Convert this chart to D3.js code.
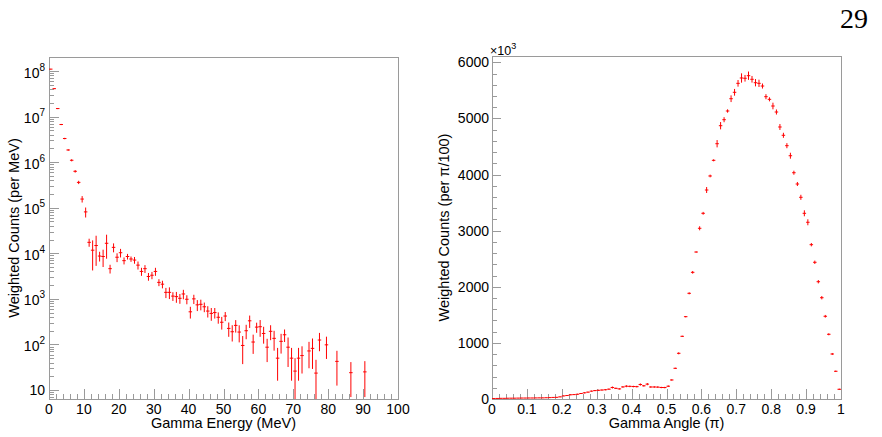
<!DOCTYPE html>
<html>
<head>
<meta charset="utf-8">
<script src="https://cdn.jsdelivr.net/npm/d3@7"></script>
<style>
  body { margin: 0; background: #fff; }
  svg { display: block; }
  text { font-family: "Liberation Sans", Arial, Helvetica, sans-serif; fill: #000; }
</style>
</head>
<body>
<svg id="chart" width="882" height="437"></svg>
<script>
// ---- left panel: gamma energy spectrum (1 MeV bins, empty bins left out)
const energyBins = [0.5, 1.5, 2.5, 3.5, 4.5, 5.5, 6.5, 7.5, 8.5, 9.5,
  10.5, 11.5, 12.5, 13.5, 14.5, 15.5, 16.5, 17.5, 18.5, 19.5,
  20.5, 21.5, 22.5, 23.5, 24.5, 25.5, 26.5, 27.5, 28.5, 29.5,
  30.5, 31.5, 32.5, 33.5, 34.5, 35.5, 36.5, 37.5, 38.5, 39.5,
  40.5, 41.5, 42.5, 43.5, 44.5, 45.5, 46.5, 47.5, 48.5, 49.5,
  50.5, 51.5, 52.5, 53.5, 54.5, 55.5, 56.5, 57.5, 58.5, 59.5,
  60.5, 61.5, 62.5, 63.5, 64.5, 65.5, 66.5, 67.5, 68.5, 69.5,
  70.5, 71.5, 72.5, 74.5, 75.5, 76.5, 77.5, 79.5, 82.5, 86.5, 90.5];
const energyCounts = [1.1e8, 4.1e7, 1.5e7, 6.7e6, 3.3e6, 1.85e6, 1.1e6, 6.3e5, 3.6e5, 1.55e5,
  8.1e4, 1.74e4, 1.17e4, 1.48e4, 8.7e3, 8.5e3, 1.66e4, 4.6e3, 1.35e4, 8.2e3,
  1.03e4, 6.9e3, 8.5e3, 7.5e3, 7.1e3, 5.5e3, 4.0e3, 4.6e3, 3.1e3, 3.3e3,
  4.0e3, 2.3e3, 2.1e3, 1.39e3, 1.39e3, 1.15e3, 1.12e3, 1.03e3, 1.28e3, 980,
  520, 1000, 740, 760, 670, 540, 480, 500, 395, 307,
  420, 225, 190, 262, 187, 95, 200, 330, 113, 240,
  245, 174, 87, 194, 136, 50, 117, 163, 87, 50,
  26, 50, 57, 72, 82, 23.5, 125, 98, 42.5, 24, 25];
const energyErrors = [1.5e6, 8e5, 4e5, 2e5, 1.2e5, 8e4, 6e4, 4e4, 3e4, 2.5e4,
  2e4, 3.5e3, 7.5e3, 9.5e3, 2.1e3, 3.5e3, 9e3, 1e3, 3e3, 1.8e3,
  2.2e3, 1.2e3, 1.2e3, 1.0e3, 1.2e3, 1.1e3, 800, 900, 600, 600,
  800, 400, 400, 350, 400, 250, 300, 250, 300, 220,
  150, 230, 200, 200, 160, 150, 150, 130, 110, 95,
  95, 78, 74, 80, 76, 58, 70, 100, 51, 60,
  98, 70, 46, 70, 63, 34, 54, 50, 55, 34,
  24, 34, 34, 42, 53, 22.5, 54, 50, 30, 17, 18];
const energyTicks = [0, 10, 20, 30, 40, 50, 60, 70, 80, 90, 100];
const energyExponents = [1, 2, 3, 4, 5, 6, 7, 8];

// ---- right panel: gamma angle (100 bins of pi/100), values in units of 10^3
const angleCounts = [8, 10, 12, 12, 14, 15, 15, 16, 17, 17,
  18, 18, 19, 20, 20, 22, 25, 28, 30, 38,
  55, 62, 75, 78, 85, 98, 110, 122, 140, 150,
  155, 160, 165, 175, 205, 190, 180, 215, 228, 225,
  222, 220, 258, 235, 265, 214, 214, 212, 205, 204,
  228, 339, 547, 814, 1117, 1467, 1883, 2257, 2619, 3042,
  3309, 3724, 3974, 4253, 4549, 4870, 4977, 5132, 5351, 5465,
  5625, 5720, 5715, 5761, 5697, 5636, 5625, 5577, 5387, 5340,
  5221, 5114, 4847, 4699, 4514, 4335, 4032, 3831, 3594, 3309,
  3149, 2750, 2436, 2090, 1805, 1474, 1153, 802, 494, 173];
const angleErrors = [2, 2, 2, 2, 3, 3, 3, 3, 3, 3,
  3, 3, 3, 3, 3, 4, 4, 4, 5, 5,
  6, 6, 7, 7, 8, 8, 9, 9, 10, 10,
  10, 10, 11, 11, 18, 12, 12, 13, 18, 14,
  14, 14, 20, 14, 20, 14, 14, 14, 13, 13,
  14, 12, 12, 18, 12, 12, 18, 24, 12, 36,
  25, 53, 24, 18, 65, 65, 45, 30, 60, 60,
  59, 83, 59, 74, 59, 65, 65, 45, 45, 36,
  59, 45, 53, 45, 45, 53, 36, 36, 45, 53,
  53, 30, 30, 30, 30, 24, 18, 18, 12, 12];
const angleTicks = [0, 0.1, 0.2, 0.3, 0.4, 0.5, 0.6, 0.7, 0.8, 0.9, 1];
const angleTickLabels = ["0", "0.1", "0.2", "0.3", "0.4", "0.5", "0.6", "0.7", "0.8", "0.9", "1"];
const countTicks = [0, 1000, 2000, 3000, 4000, 5000, 6000];

const svg = d3.select("#chart");
const axisColor = "#9a9a9a";
const markColor = "#ff0000";
const labelSize = 14;
const titleSize = 14.5;

// frames
const left = { x0: 49, x1: 398, y0: 57, y1: 399 };
const right = { x0: 492, x1: 841, y0: 56, y1: 399 };

const xE = d3.scaleLinear().domain([0, 100]).range([left.x0, left.x1]);
const yE = d3.scaleLog().domain([6.35, 2.03e8]).range([left.y1, left.y0]);
const xA = d3.scaleLinear().domain([0, 1]).range([right.x0, right.x1]);
const yA = d3.scaleLinear().domain([0, 6112]).range([right.y1, right.y0]);

function frame(p) {
  svg.append("rect")
    .attr("x", p.x0 + 0.5).attr("y", p.y0 + 0.5)
    .attr("width", p.x1 - p.x0).attr("height", p.y1 - p.y0)
    .attr("fill", "none").attr("stroke", axisColor).attr("stroke-width", 1);
}

function tickLine(x1, y1, x2, y2) {
  svg.append("line")
    .attr("x1", x1).attr("y1", y1).attr("x2", x2).attr("y2", y2)
    .attr("stroke", axisColor).attr("stroke-width", 1);
}

// x ticks (inside, pointing up)
function xTicks(scale, p, majors, minorStep, labels) {
  const [d0, d1] = scale.domain();
  const n = Math.round((d1 - d0) / minorStep);
  for (let i = 0; i <= n; i++) {
    const v = d0 + i * minorStep;
    const x = Math.round(scale(v)) + 0.5;
    const isMajor = i % 5 === 0;
    tickLine(x, p.y1, x, p.y1 - (isMajor ? 10 : 5));
  }
  majors.forEach((v, i) => {
    svg.append("text")
      .attr("x", scale(v)).attr("y", 413.5)
      .attr("text-anchor", "middle")
      .attr("font-size", labelSize)
      .text(labels ? labels[i] : v);
  });
}

frame(left);
frame(right);

// left panel axes
xTicks(xE, left, energyTicks, 2);
energyExponents.forEach(k => {
  const y = Math.round(yE(Math.pow(10, k))) + 0.5;
  tickLine(left.x0, y, left.x0 + 10, y);
  for (let m = 2; m <= 9; m++) {
    const v = m * Math.pow(10, k);
    if (v > yE.domain()[1]) break;
    const ym = Math.round(yE(v)) + 0.5;
    tickLine(left.x0, ym, left.x0 + 5, ym);
  }
});
[7, 8, 9].forEach(m => {
  const ym = Math.round(yE(m)) + 0.5;
  tickLine(left.x0, ym, left.x0 + 5, ym);
});
energyExponents.forEach(k => {
  const y = yE(Math.pow(10, k));
  const t = svg.append("text")
    .attr("x", 45).attr("y", y + (k === 1 ? 5 : 6.5))
    .attr("text-anchor", "end")
    .attr("font-size", labelSize);
  t.append("tspan").text("10");
  if (k > 1) {
    t.append("tspan").attr("font-size", 10).attr("dy", -7).text(k);
  }
});

// right panel axes
xTicks(xA, right, angleTicks, 0.02, angleTickLabels);
for (let v = 0; v <= 6000; v += 200) {
  const y = Math.round(yA(v)) + 0.5;
  tickLine(right.x0, y, right.x0 + (v % 1000 === 0 ? 9 : 5), y);
}
countTicks.forEach(v => {
  svg.append("text")
    .attr("x", 489).attr("y", yA(v) + 5)
    .attr("text-anchor", "end")
    .attr("font-size", labelSize)
    .text(v);
});
const mult = svg.append("text")
  .attr("x", 490).attr("y", 55)
  .attr("font-size", 12.5);
mult.append("tspan").text("\u00d710");
mult.append("tspan").attr("font-size", 9).attr("dy", -6).text("3");

// clip paths
const defs = svg.append("defs");
defs.append("clipPath").attr("id", "clipE").append("rect")
  .attr("x", left.x0).attr("y", left.y0).attr("width", left.x1 - left.x0).attr("height", left.y1 - left.y0);
defs.append("clipPath").attr("id", "clipA").append("rect")
  .attr("x", right.x0).attr("y", right.y0).attr("width", right.x1 - right.x0).attr("height", right.y1 - right.y0);

// error-bar crosses
function drawPoints(gid, xs, vals, errs, x, y, width, logScale) {
  const g = svg.append("g").attr("clip-path", `url(#${gid})`)
    .attr("stroke", markColor).attr("stroke-width", 1);
  xs.forEach((c, i) => {
    const v = vals[i], e = errs[i];
    const lo = logScale ? (v - e > 0 ? y(v - e) : y.range()[0] + 5) : y(v - e);
    const hi = y(v + e);
    const cx = x(c), cy = y(v);
    g.append("line").attr("x1", cx).attr("x2", cx).attr("y1", lo).attr("y2", hi);
    g.append("line").attr("x1", x(c - width / 2)).attr("x2", x(c + width / 2))
      .attr("y1", cy).attr("y2", cy);
  });
}

drawPoints("clipE", energyBins, energyCounts, energyErrors, xE, yE, 1, true);
const angleBins = angleCounts.map((d, i) => (i + 0.5) / 100);
drawPoints("clipA", angleBins, angleCounts, angleErrors, xA, yA, 0.01, false);

// axis titles
svg.append("text")
  .attr("x", (left.x0 + left.x1) / 2).attr("y", 428)
  .attr("text-anchor", "middle").attr("font-size", titleSize)
  .text("Gamma Energy (MeV)");
svg.append("text")
  .attr("x", (right.x0 + right.x1) / 2).attr("y", 428)
  .attr("text-anchor", "middle").attr("font-size", titleSize)
  .text("Gamma Angle (\u03c0)");
svg.append("text")
  .attr("transform", `translate(19,${(left.y0 + left.y1) / 2}) rotate(-90)`)
  .attr("text-anchor", "middle").attr("font-size", titleSize)
  .text("Weighted Counts (per MeV)");
svg.append("text")
  .attr("transform", `translate(449,${(right.y0 + right.y1) / 2}) rotate(-90)`)
  .attr("text-anchor", "middle").attr("font-size", titleSize)
  .text("Weighted Counts (per \u03c0/100)");

// page number
svg.append("text")
  .attr("x", 868).attr("y", 28)
  .attr("text-anchor", "end")
  .style("font-family", '"Liberation Serif", "DejaVu Serif", serif')
  .attr("font-size", 28)
  .text("29");
</script>
</body>
</html>
